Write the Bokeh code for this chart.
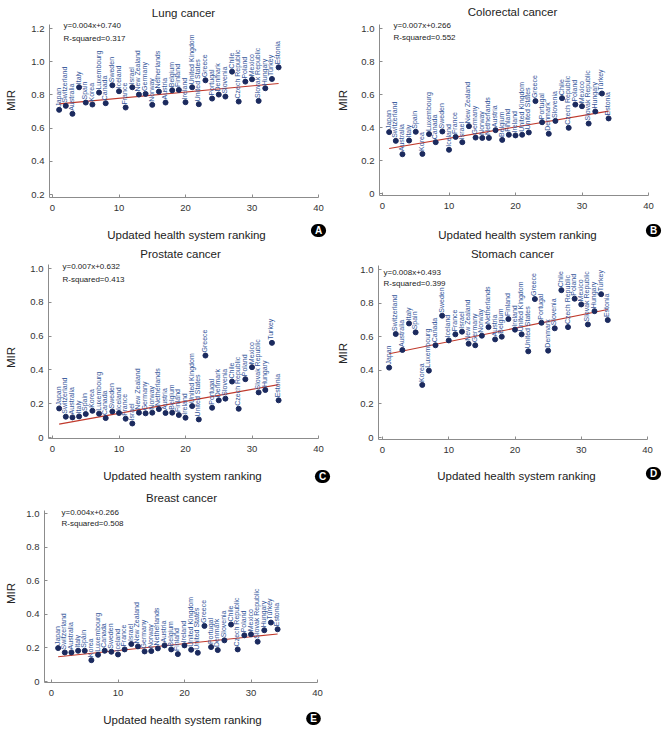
import math
from bokeh.plotting import figure
from bokeh.models import Label, FixedTicker, ColumnDataSource, Range1d
from bokeh.layouts import column, row
from bokeh.embed import file_html
from bokeh.resources import INLINE
from bokeh.core.properties import value

# ---------------- data ----------------
countries = ["Japan", "Switzerland", "Australia", "Italy", "Spain", "Korea", "Luxembourg",
             "Canada", "Sweden", "Iceland", "France", "Israel", "New Zealand", "Germany",
             "Norway", "Netherlands", "Austria", "Belgium", "Finland", "Ireland",
             "United Kingdom", "United States", "Greece", "Portugal", "Denmark", "Slovenia",
             "Chile", "Czech Republic", "Poland", "Mexico", "Slovak Republic", "Hungary",
             "Turkey", "Estonia"]
ranking = list(range(1, 35))

lung_mir = [0.710, 0.734, 0.686, 0.846, 0.754, 0.742, 0.814, 0.750, 0.858, 0.822,
            0.724, 0.846, 0.802, 0.806, 0.740, 0.820, 0.754, 0.828, 0.830, 0.756,
            0.846, 0.744, 0.888, 0.778, 0.802, 0.790, 0.940, 0.760, 0.880, 0.894,
            0.764, 0.840, 0.896, 0.966]
colorectal_mir = [0.372, 0.319, 0.238, 0.321, 0.374, 0.240, 0.360, 0.311, 0.376, 0.265,
                  0.343, 0.311, 0.408, 0.339, 0.337, 0.337, 0.384, 0.325, 0.356, 0.352,
                  0.356, 0.370, 0.560, 0.432, 0.362, 0.440, 0.578, 0.398, 0.539, 0.529,
                  0.424, 0.497, 0.606, 0.455]
prostate_mir = [0.172, 0.123, 0.119, 0.125, 0.139, 0.158, 0.141, 0.115, 0.154, 0.145,
                0.111, 0.083, 0.147, 0.143, 0.147, 0.168, 0.145, 0.147, 0.133, 0.117,
                0.186, 0.107, 0.485, 0.176, 0.220, 0.230, 0.331, 0.170, 0.345, 0.416,
                0.267, 0.281, 0.560, 0.220]
stomach_mir = [0.416, 0.616, 0.521, 0.679, 0.626, 0.313, 0.398, 0.549, 0.725, 0.578,
               0.614, 0.630, 0.558, 0.549, 0.606, 0.657, 0.584, 0.600, 0.705, 0.642,
               0.614, 0.513, 0.824, 0.683, 0.517, 0.650, 0.877, 0.657, 0.826, 0.792,
               0.673, 0.752, 0.853, 0.699]
breast_mir = [0.199, 0.173, 0.173, 0.183, 0.183, 0.127, 0.159, 0.183, 0.177, 0.161,
              0.191, 0.223, 0.209, 0.179, 0.181, 0.197, 0.215, 0.191, 0.163, 0.215,
              0.189, 0.171, 0.331, 0.205, 0.187, 0.245, 0.339, 0.191, 0.275, 0.281,
              0.237, 0.305, 0.351, 0.311]

# fitted trend line ends (at ranking 1 and 34)
trend_x = [1, 34]
lung_trend = [0.746, 0.869]
colorectal_trend = [0.273, 0.499]
prostate_trend = [0.079, 0.313]
stomach_trend = [0.499, 0.762]
breast_trend = [0.147, 0.283]

titles = ["Lung cancer", "Colorectal cancer", "Prostate cancer", "Stomach cancer", "Breast cancer"]
equations = ["y=0.004x+0.740", "y=0.007x+0.266", "y=0.007x+0.632", "y=0.008x+0.493", "y=0.004x+0.266"]
r_squared = ["R-squared=0.317", "R-squared=0.552", "R-squared=0.413", "R-squared=0.399", "R-squared=0.508"]
badges = ["A", "B", "C", "D", "E"]
x_ticks = [0, 10, 20, 30, 40]
y_ticks_lung = [0.2, 0.4, 0.6, 0.8, 1.0, 1.2]
y_ticks_other = [0, 0.2, 0.4, 0.6, 0.8, 1.0]
x_label = "Updated health system ranking"
y_label = "MIR"

# ---------------- layout config (pixel positions inside each figure) ----------------
W = 333
ROW_H = [242, 242, 245]
FONT = "Liberation Sans"
panels = [
    dict(mir=lung_mir, trend=lung_trend, yt=y_ticks_lung, h=ROW_H[0],
         x0p=52, x40p=318, spx=49, ytop=(1.2, 28), ybot=(0.2, 194), spb=197, spt=24,
         title=(183, 12), xl=(186, 234), yl=(10, 100), badge=(318, 230), eq=(63, 25), r2=(63, 38)),
    dict(mir=colorectal_mir, trend=colorectal_trend, yt=y_ticks_other, h=ROW_H[0],
         x0p=49, x40p=315, spx=46, ytop=(1.0, 28), ybot=(0.0, 193), spb=195, spt=24,
         title=(179, 11), xl=(184, 234), yl=(9, 100), badge=(320, 230), eq=(60, 25), r2=(60, 37)),
    dict(mir=prostate_mir, trend=prostate_trend, yt=y_ticks_other, h=ROW_H[1],
         x0p=52, x40p=318, spx=48, ytop=(1.0, 26), ybot=(0.0, 195), spb=196, spt=22,
         title=(180, 11), xl=(182, 233), yl=(10, 115), badge=(322, 234), eq=(62, 24), r2=(62, 37)),
    dict(mir=stomach_mir, trend=stomach_trend, yt=y_ticks_other, h=ROW_H[1],
         x0p=49, x40p=314, spx=45, ytop=(1.0, 27), ybot=(0.0, 195), spb=197, spt=23,
         title=(179, 11), xl=(183, 233), yl=(9, 111), badge=(320, 231), eq=(50, 30), r2=(50, 41)),
    dict(mir=breast_mir, trend=breast_trend, yt=y_ticks_other, h=ROW_H[2],
         x0p=51, x40p=317, spx=44, ytop=(1.0, 29), ybot=(0.0, 197), spb=198, spt=26,
         title=(181, 13), xl=(182, 235), yl=(10, 109), badge=(313, 234), eq=(61, 28), r2=(61, 39)),
]


def make_panel(i, cfg):
    H = cfg["h"]
    xppu = (cfg["x40p"] - cfg["x0p"]) / 40.0

    def dx(px):
        return (px - cfg["x0p"]) / xppu

    vt, pt = cfg["ytop"]
    vb, pb = cfg["ybot"]
    yppu = (pb - pt) / (vt - vb)

    def dy(py):
        return vb + (pb - py) / yppu

    p = figure(width=W, height=H, output_backend="svg", toolbar_location=None,
               x_range=Range1d(dx(0), dx(W)), y_range=Range1d(dy(H), dy(0)),
               min_border=0, min_border_left=0, min_border_right=0,
               min_border_top=0, min_border_bottom=0)
    p.outline_line_color = None
    p.grid.grid_line_color = None
    p.background_fill_color = "white"
    p.border_fill_color = "white"

    for ax in (p.xaxis[0], p.yaxis[0]):
        ax.axis_line_color = "#8c8c8c"
        ax.major_tick_line_color = "#8c8c8c"
        ax.major_tick_in = 3
        ax.major_tick_out = 0
        ax.minor_tick_line_color = None
        ax.major_label_text_font = FONT
        ax.major_label_text_font_size = "9.5px"
        ax.major_label_text_color = "#333333"
    xa, ya = p.xaxis[0], p.yaxis[0]
    xa.ticker = FixedTicker(ticks=x_ticks)
    xa.major_label_standoff = 7
    xa.fixed_location = dy(cfg["spb"])
    xa.bounds = (dx(cfg["spx"]), 40)
    ya.ticker = FixedTicker(ticks=cfg["yt"])
    ya.major_label_standoff = 5
    ya.fixed_location = dx(cfg["spx"])
    ya.bounds = (dy(cfg["spb"]), dy(cfg["spt"]))
    ya.major_label_overrides = {t: ("0" if t == 0 else f"{t:.1f}") for t in cfg["yt"]}

    src = ColumnDataSource(dict(x=ranking, y=cfg["mir"], name=countries))
    p.line(trend_x, cfg["trend"], line_color="#c0392b", line_width=1.1)
    p.scatter("x", "y", source=src, size=5, fill_color="#1b2a5e", line_color="#1b2a5e")
    p.text("x", "y", text="name", source=src, angle=math.pi / 2,
           text_align="left", text_baseline="middle", x_offset=-1, y_offset=-3,
           text_font=value(FONT), text_font_size="7px", text_color="#33559a")

    def lab(pos, text, size, color="#222222", align="center", angle=0.0, style="normal", **kw):
        px, py = pos
        p.add_layout(Label(x=dx(px), y=dy(py), text=text, text_font=FONT, text_font_size=size,
                           text_color=color, text_align=align, text_baseline="middle",
                           angle=angle, text_font_style=style, **kw))

    lab(cfg["title"], titles[i], "11.5px")
    lab(cfg["xl"], x_label, "11.5px")
    lab(cfg["yl"], y_label, "11.5px", angle=math.pi / 2)
    lab(cfg["eq"], equations[i], "8px", align="left")
    lab(cfg["r2"], r_squared[i], "8px", align="left")
    lab(cfg["badge"], badges[i], "10px", color="white", style="bold",
        background_fill_color="black", border_radius=7, padding=(4, 1))
    return p


figs = [make_panel(i, c) for i, c in enumerate(panels)]
layout = column(row(figs[0], figs[1]), row(figs[2], figs[3]), row(figs[4]))

open("out.html", "w").write(file_html(layout, INLINE))
